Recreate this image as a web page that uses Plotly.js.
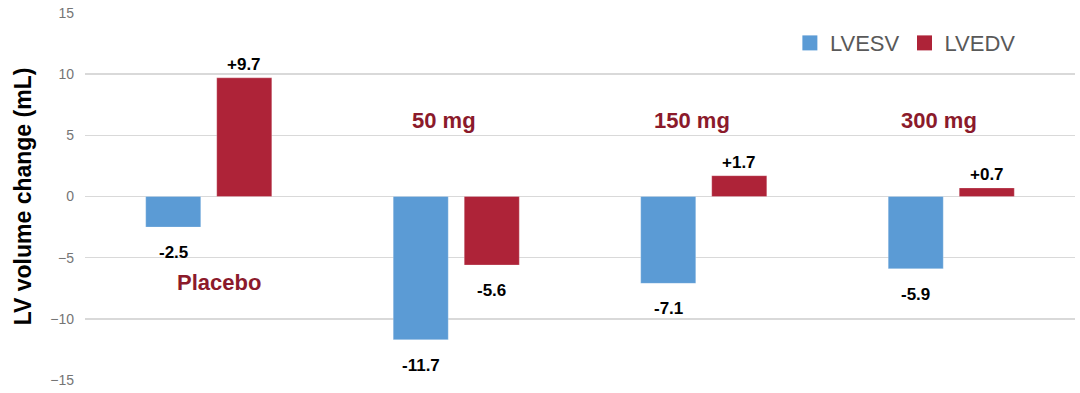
<!DOCTYPE html>
<html><head><meta charset="utf-8">
<script src="https://cdn.plot.ly/plotly-3.0.1.min.js"></script>
<style>html,body{margin:0;padding:0;background:#fff}#chart{width:1080px;height:393px}</style>
</head><body><div id="chart"></div>
<script>
const categories = ["Placebo", "50 mg", "150 mg", "300 mg"];
const lvesv = [-2.5, -11.7, -7.1, -5.9];
const lvedv = [9.7, -5.6, 1.7, 0.7];
const valueLabelsESV = ["-2.5", "-11.7", "-7.1", "-5.9"];
const valueLabelsEDV = ["+9.7", "-5.6", "+1.7", "+0.7"];
const doseLabelY = [-7.0, 6.2, 6.2, 6.2];

const FONT = "Liberation Sans, Arial, sans-serif";
const BLUE = "#5B9BD5", RED = "#AE2338";
const traces = [
  {type:"bar", name:"LVESV", x:categories, y:lvesv, showlegend:false, marker:{color:BLUE, line:{color:"rgba(255,255,255,0.5)", width:0.5}}, hoverinfo:"none"},
  {type:"bar", name:"LVEDV", x:categories, y:lvedv, showlegend:false, marker:{color:RED, line:{color:"rgba(255,255,255,0.5)", width:0.5}}, hoverinfo:"none"},
  {type:"scatter", mode:"markers", name:"LVESV", x:[null], y:[null], marker:{symbol:"square", size:15, color:BLUE}, hoverinfo:"none"},
  {type:"scatter", mode:"markers", name:"LVEDV", x:[null], y:[null], marker:{symbol:"square", size:15, color:RED}, hoverinfo:"none"}
];

const annotations = [];
function addLabels(vals, labels, xshift){
  vals.forEach((v,i)=>{
    annotations.push({x:categories[i], y:v, xref:"x", yref:"y", text:"<b>"+labels[i]+"</b>", showarrow:false,
      xshift:xshift, yanchor: v>=0 ? "bottom":"top", yshift: v>=0 ? 2 : -14,
      font:{family:FONT, size:17, color:"#000"}});
  });
}
addLabels(lvesv, valueLabelsESV, -35.5);
addLabels(lvedv, valueLabelsEDV, 35.5);
categories.forEach((c,i)=>{
  annotations.push({x:c, y:doseLabelY[i], xref:"x", yref:"y", text:"<b>"+c+"</b>", showarrow:false,
    xshift: i===0 ? 10 : -12, font:{family:FONT, size:22, color:"#8B1A2B"}});
});

const layout = {
  width:1080, height:393,
  margin:{l:85, r:5, t:13, b:13},
  paper_bgcolor:"#fff", plot_bgcolor:"#fff",
  barmode:"group", bargap:0.426, bargroupgap:0.225,
  font:{family:FONT},
  xaxis:{type:"category", showticklabels:false, showgrid:false, zeroline:false, showline:false, ticks:""},
  yaxis:{range:[-15,15], dtick:5, tick0:0, showgrid:true, gridcolor:"#D9D9D9", gridwidth:1.5,
    zeroline:false, showline:false, ticks:"", ticklabelstandoff:10,
    tickfont:{family:FONT, size:14, color:"#757575"},
    title:{text:"<b>LV volume change (mL)</b>", font:{family:FONT, size:23, color:"#000"}, standoff:12}},
  showlegend:true,
  legend:{orientation:"h", x:0.712, y:0.918, xanchor:"left", yanchor:"middle",
    font:{family:FONT, size:22, color:"#595959"}, itemwidth:30, bgcolor:"rgba(0,0,0,0)"},
  annotations:annotations
};
Plotly.newPlot("chart", traces, layout, {displayModeBar:false, staticPlot:true});
</script></body></html>
